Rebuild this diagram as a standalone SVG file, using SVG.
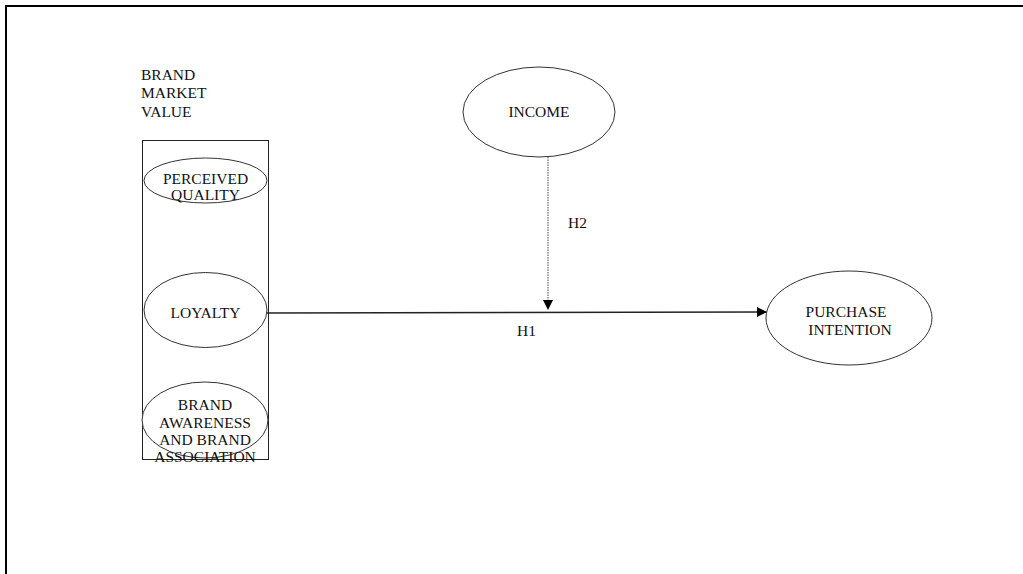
<svg xmlns="http://www.w3.org/2000/svg" width="1023" height="574" viewBox="0 0 1023 574">
<defs>
<style>
text{font-family:"Liberation Serif","Times New Roman",serif;font-size:15.5px;fill:#111}
.n{fill:#fff;stroke:#333;stroke-width:1}
.c{text-anchor:middle}
</style>
<marker id="ah" markerWidth="10" markerHeight="10" refX="9" refY="5" orient="auto" markerUnits="userSpaceOnUse">
<path d="M0,0 L10,5 L0,10 Z" fill="#000"/>
</marker>
</defs>
<rect width="1023" height="574" fill="#fff"/>
<path d="M6,580 L6,6 L1030,6" fill="none" stroke="#000" stroke-width="2"/>
<g id="bmv">
<text x="141" y="80">BRAND</text>
<text x="141" y="98">MARKET</text>
<text x="141" y="117">VALUE</text>
<rect x="142.5" y="140.5" width="126" height="319" fill="none" stroke="#222" stroke-width="1"/>
</g>
<g id="perceived">
<ellipse class="n" cx="205.5" cy="180.5" rx="61.5" ry="22.5"/>
<text class="c" x="205.5" y="184">PERCEIVED</text>
<text class="c" x="205.5" y="200">QUALITY</text>
</g>
<g id="loyalty">
<ellipse class="n" cx="205.5" cy="310" rx="61.5" ry="37.5"/>
<text class="c" x="205.5" y="318">LOYALTY</text>
</g>
<g id="awareness">
<ellipse class="n" cx="205" cy="420" rx="63" ry="38"/>
<text class="c" x="205" y="410">BRAND</text>
<text class="c" x="205" y="428">AWARENESS</text>
<text class="c" x="205" y="445">AND BRAND</text>
<text class="c" x="205" y="462">ASSOCIATION</text>
</g>
<g id="income">
<ellipse class="n" cx="539" cy="112" rx="76" ry="45"/>
<text class="c" x="539" y="117">INCOME</text>
</g>
<g id="purchase">
<ellipse class="n" cx="849" cy="318" rx="83" ry="47"/>
<text class="c" x="846" y="317">PURCHASE</text>
<text class="c" x="850" y="335">INTENTION</text>
</g>
<g id="connectors">
<line x1="267" y1="313" x2="766" y2="312" stroke="#222" stroke-width="1.3" marker-end="url(#ah)"/>
<line x1="548" y1="157" x2="548" y2="309" stroke="#444" stroke-width="1" stroke-dasharray="1.5,1" marker-end="url(#ah)"/>
<text x="568" y="228">H2</text>
<text x="517" y="336">H1</text>
</g>
</svg>
